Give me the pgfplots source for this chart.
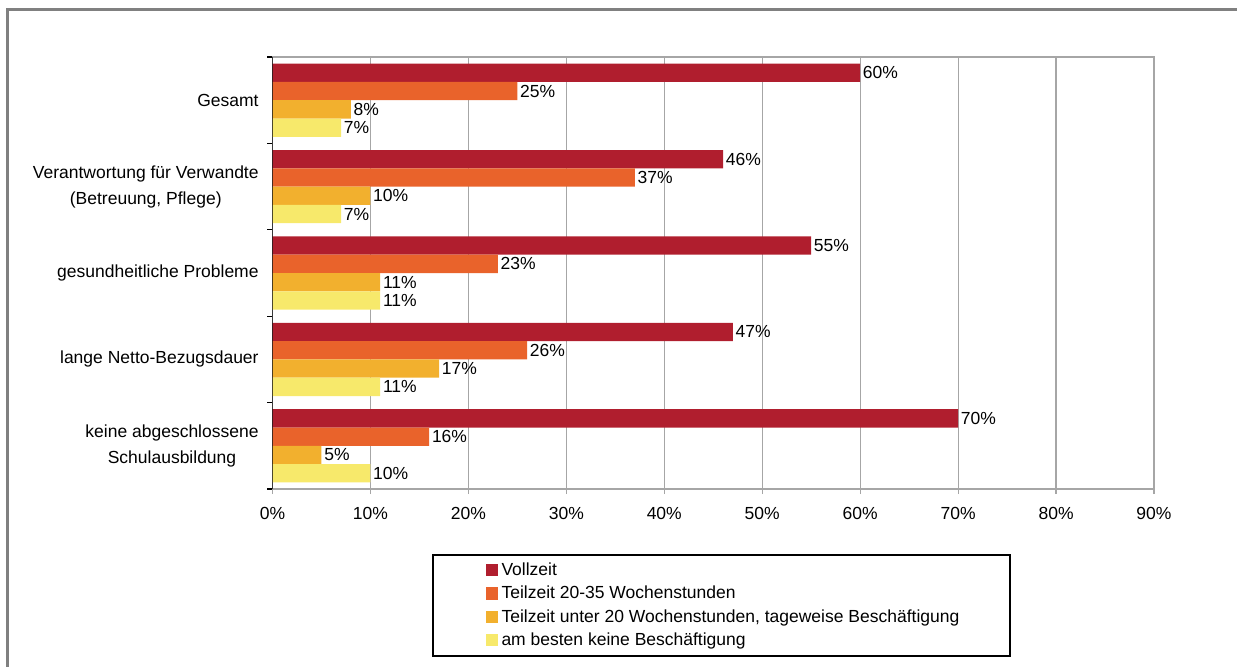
\documentclass[border=0pt]{standalone}
\usepackage{pgfplots}
\pgfplotsset{compat=1.18}
\usepackage{fontspec}
\setmainfont{Liberation Sans}
\definecolor{cA}{HTML}{B01E2E}
\definecolor{cB}{HTML}{E9632B}
\definecolor{cC}{HTML}{F2B02E}
\definecolor{cD}{HTML}{F7E96B}
\definecolor{gridc}{HTML}{A6A6A6}
\definecolor{framec}{HTML}{808080}
\pgfplotsset{
  sq/.style={legend image code/.code={\fill[#1] (0pt,-2.6pt) rectangle (6.2pt,3.6pt);}},
}
\begin{document}
\fontsize{8.75pt}{13pt}\selectfont
\begin{tikzpicture}
\path[use as bounding box] (0,0) rectangle (618.5pt,-333pt);
\draw[framec, line width=1.5pt] (3.75pt,-4.75pt) rectangle (700pt,-400pt);
\draw[black, line width=0.75pt] (216.6pt,-277.6pt) rectangle (505pt,-328pt);
\begin{axis}[
  at={(136.25pt,-244.5pt)}, anchor=south west,
  scale only axis, width=440.75pt, height=216pt,
  xmin=0, xmax=90, ymin=-0.5, ymax=4.5,
  xbar, bar width=9.15pt,
  /pgf/number format/assume math mode=true,
  xtick={0,10,...,90},
  xticklabels={0\%,10\%,20\%,30\%,40\%,50\%,60\%,70\%,80\%,90\%},
  xmajorgrids, grid style={gridc, line width=0.6pt},
  axis line style={gridc, line width=0.75pt},
  tick align=outside, xtick pos=bottom, ytick pos=left,
  major tick length=2.5pt,
  xtick style={gridc, line width=0.6pt},
  ytick={-0.5,0.5,...,4.5}, yticklabels={},
  ytick style={black, line width=0.6pt},
  extra y ticks={0,1,2,3,4},
  extra y tick labels={{keine abgeschlossene\\Schulausbildung},{lange Netto-Bezugsdauer},{gesundheitliche Probleme},{Verantwortung für Verwandte\\(Betreuung, Pflege)},{Gesamt}},
  extra y tick style={major tick length=0pt},
  yticklabel style={align=center, inner sep=0pt, xshift=-6.75pt},
  xticklabel style={inner sep=0pt, yshift=-6.5pt},
  nodes near coords={\pgfmathprintnumber{\pgfplotspointmeta}\%},
  nodes near coords style={anchor=west, inner xsep=1.2pt},
  legend style={at={(axis description cs:0.2412,-0.1685)}, anchor=north west,
    draw=none, fill=none, inner sep=0pt, row sep=3pt, column sep=1.8pt,
    nodes={inner sep=0pt, text height=6.5pt, text depth=2.2pt},
    legend cell align=left},
]
\addplot[fill=cA, draw=none, bar shift=13.725pt, sq=cA] coordinates {(70,0) (47,1) (55,2) (46,3) (60,4)};
\addlegendentry{Vollzeit}
\addplot[fill=cB, draw=none, bar shift=4.575pt, sq=cB] coordinates {(16,0) (26,1) (23,2) (37,3) (25,4)};
\addlegendentry{Teilzeit 20-35 Wochenstunden}
\addplot[fill=cC, draw=none, bar shift=-4.575pt, sq=cC] coordinates {(5,0) (17,1) (11,2) (10,3) (8,4)};
\addlegendentry{Teilzeit unter 20 Wochenstunden, tageweise Beschäftigung}
\addplot[fill=cD, draw=none, bar shift=-13.725pt, sq=cD] coordinates {(10,0) (11,1) (11,2) (7,3) (7,4)};
\addlegendentry{am besten keine Beschäftigung}
\draw[black, line width=0.75pt] (rel axis cs:0,0) -- (rel axis cs:0,1);
\end{axis}
\end{tikzpicture}
\end{document}
